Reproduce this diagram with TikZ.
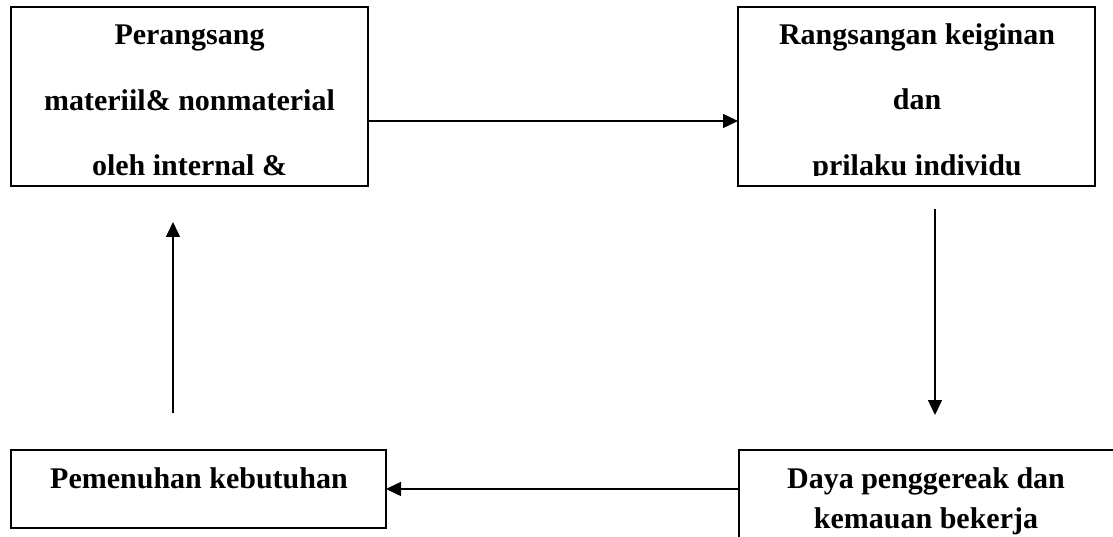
\documentclass[tikz,border=0pt]{standalone}
\usepackage{fontspec}
\setmainfont{Liberation Serif}
\usetikzlibrary{arrows.meta}
\tikzset{
  boxnode/.style={draw=black, line width=1.8pt, rectangle, inner sep=0pt, outer sep=0pt, anchor=north west},
  txt/.style={anchor=base, inner sep=0pt, font=\fontsize{30}{36}\selectfont\bfseries},
  conn/.style={line width=1.5pt, -{Triangle[length=15pt,width=14pt]}}
}
\begin{document}
\begin{tikzpicture}[x=1pt,y=-1pt]
\useasboundingbox (0,0) rectangle (1113,537);
% boxes
\node[boxnode, minimum width=357pt, minimum height=179pt] (A) at (11,7) {};
\node[boxnode, minimum width=357pt, minimum height=179pt] (B) at (738,7) {};
\node[boxnode, minimum width=375pt, minimum height=78pt] (C) at (11,450) {};
\node[boxnode, minimum width=385pt, minimum height=110pt] (D) at (739,450) {};
% texts
\node[txt] (a1) at (189.5,45) {Perangsang};
\node[txt] (a2) at (189.5,111) {materiil\& nonmaterial};
\node[txt] (a3) at (189.5,176) {oleh internal \&};
\node[txt] (b1) at (917,45) {Rangsangan keiginan};
\node[txt] (b2) at (917,110) {dan};
\begin{scope}
\clip (740,150) rectangle (1093,176);
\node[txt] (b3) at (917,175.5) {prilaku individu};
\end{scope}
\node[txt] (c1) at (199,488) {Pemenuhan kebutuhan};
\node[txt] (d1) at (926,488) {Daya penggereak dan};
\node[txt] (d2) at (926,528) {kemauan bekerja};
% connectors
\coordinate (rs) at (935,209);
\coordinate (re) at (935,415);
\coordinate (ls) at (173,413);
\coordinate (le) at (173,222);
\draw[conn] (A.east |- 0,121) -- (B.west |- 0,121);
\draw[conn] (rs) -- (re);
\draw[conn] (D.west |- 0,489) -- (C.east |- 0,489);
\draw[conn] (ls) -- (le);
\end{tikzpicture}
\end{document}
